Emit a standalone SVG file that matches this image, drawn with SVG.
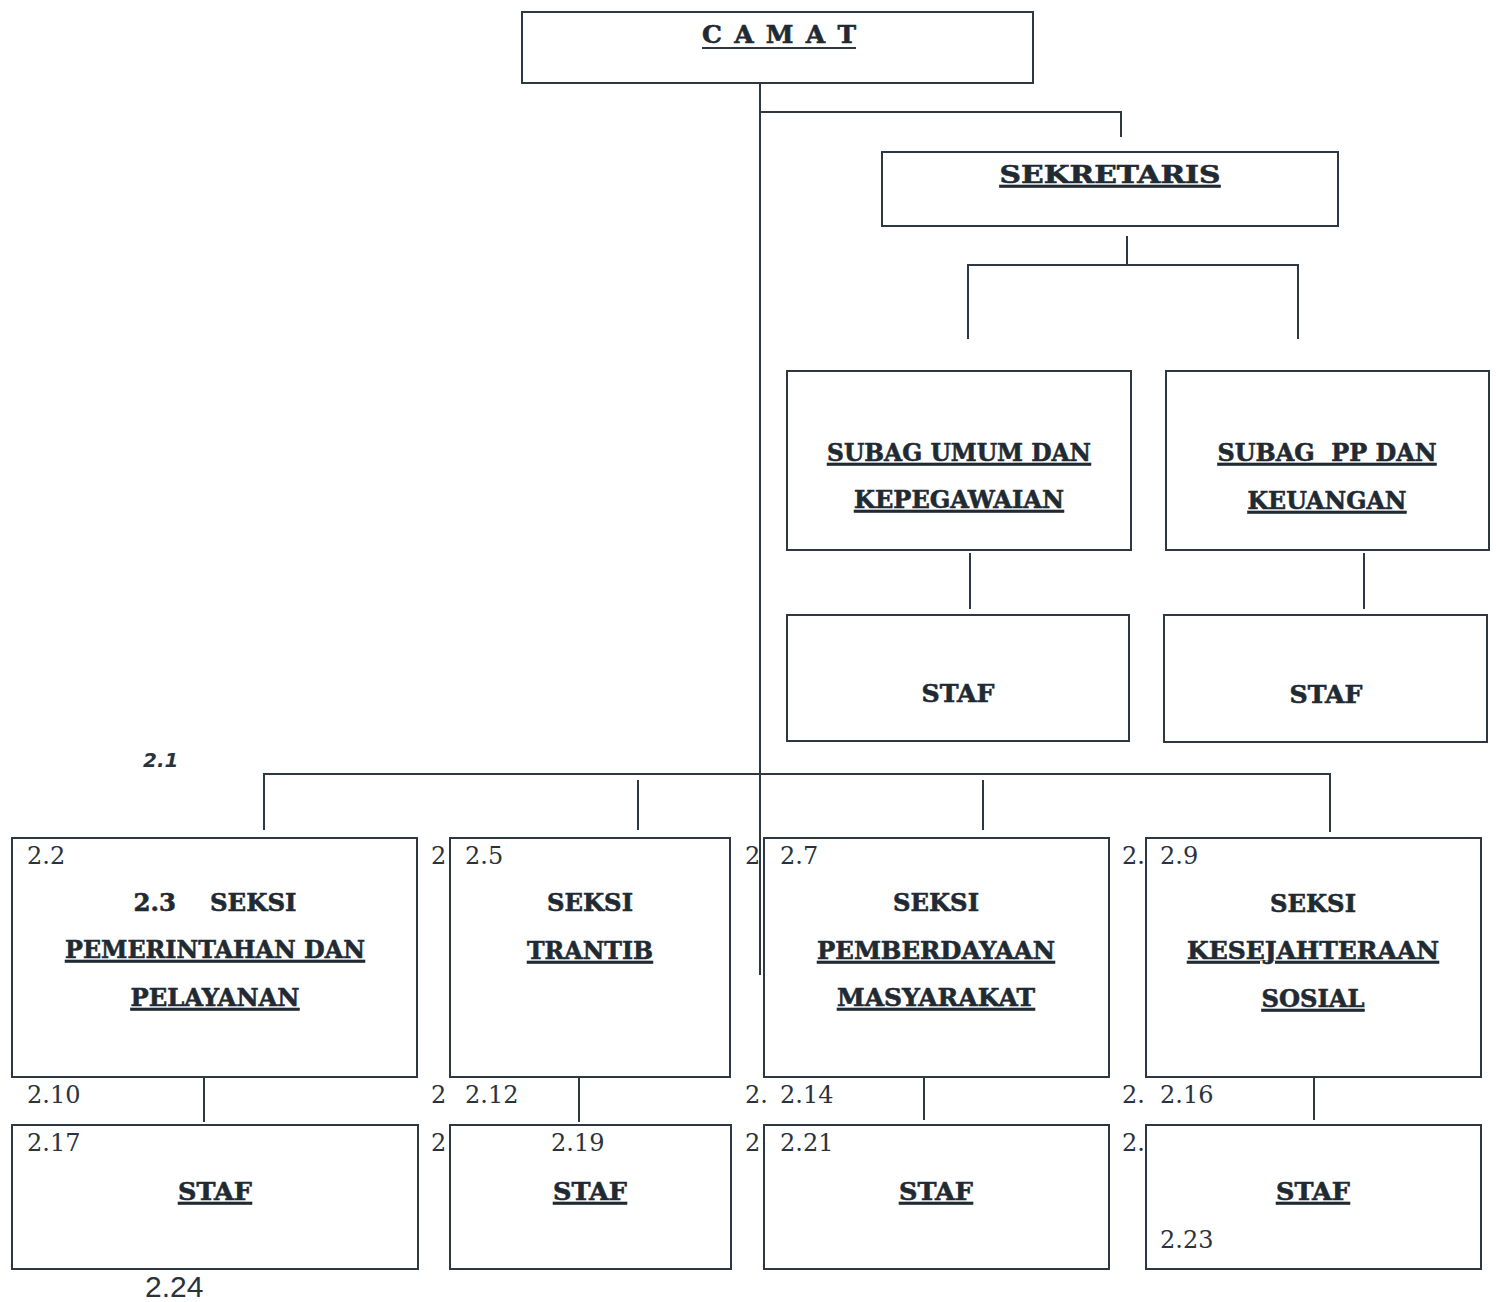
<svg xmlns="http://www.w3.org/2000/svg" width="1496" height="1302" viewBox="0 0 1496 1302">
<style>
.box{fill:#ffffff;stroke:#2e3843;stroke-width:2}
.ln{stroke:#2e3843;stroke-width:2;fill:none}
.t{font-family:"DejaVu Serif","Liberation Serif",serif;font-weight:bold;font-size:25px;fill:#1f2a33;stroke:#1f2a33;stroke-width:0.6;text-anchor:middle}
.u{text-decoration:underline}
.n{font-family:"DejaVu Serif","Liberation Serif",serif;font-size:24px;fill:#2a333c}
.s{font-family:"Liberation Sans",Arial,sans-serif;font-size:30px;fill:#2a333c}
.i{font-family:"DejaVu Sans","Liberation Sans",sans-serif;font-size:20px;font-style:italic;font-weight:bold;fill:#2a333c}
</style>
<rect width="1496" height="1302" fill="#ffffff"/>
<g id="connectors">
<line class="ln" x1="760" y1="83" x2="760" y2="975"/>
<polyline class="ln" points="760,112 1121,112 1121,137"/>
<line class="ln" x1="1127" y1="236" x2="1127" y2="265"/>
<polyline class="ln" points="968,339 968,265 1298,265 1298,339"/>
<line class="ln" x1="970" y1="553" x2="970" y2="609"/>
<line class="ln" x1="1364" y1="553" x2="1364" y2="609"/>
<polyline class="ln" points="264,830 264,774 1330,774 1330,832"/>
<line class="ln" x1="638" y1="780" x2="638" y2="830"/>
<line class="ln" x1="983" y1="780" x2="983" y2="830"/>
<line class="ln" x1="204" y1="1077" x2="204" y2="1122"/>
<line class="ln" x1="579" y1="1077" x2="579" y2="1122"/>
<line class="ln" x1="924" y1="1077" x2="924" y2="1120"/>
<line class="ln" x1="1314" y1="1077" x2="1314" y2="1120"/>
</g>
<g id="camat">
<rect class="box" x="522" y="12" width="511" height="71"/>
<text class="t" x="779" y="43" font-size="27" textLength="154" lengthAdjust="spacing">C A M A T</text>
<line class="ln" x1="702" y1="48" x2="856" y2="48"/>
</g>
<g id="sekretaris">
<rect class="box" x="882" y="152" width="456" height="74"/>
<text class="t u" x="1110" y="183" font-size="27" textLength="221" lengthAdjust="spacingAndGlyphs">SEKRETARIS</text>
</g>
<g id="subag-umum">
<rect class="box" x="787" y="371" width="344" height="179"/>
<text class="t u" x="959" y="461" textLength="264" lengthAdjust="spacingAndGlyphs">SUBAG UMUM DAN</text>
<text class="t u" x="959" y="508" textLength="210" lengthAdjust="spacingAndGlyphs">KEPEGAWAIAN</text>
</g>
<g id="subag-pp">
<rect class="box" x="1166" y="371" width="323" height="179"/>
<text class="t u" x="1327" y="461" textLength="219" lengthAdjust="spacingAndGlyphs" xml:space="preserve">SUBAG  PP DAN</text>
<text class="t u" x="1327" y="509" textLength="159" lengthAdjust="spacingAndGlyphs">KEUANGAN</text>
</g>
<g id="staf-umum">
<rect class="box" x="787" y="615" width="342" height="126"/>
<text class="t" x="958" y="702" textLength="73" lengthAdjust="spacingAndGlyphs">STAF</text>
</g>
<g id="staf-pp">
<rect class="box" x="1164" y="615" width="323" height="127"/>
<text class="t" x="1326" y="703" textLength="73" lengthAdjust="spacingAndGlyphs">STAF</text>
</g>
<text class="i" x="143" y="767">2.1</text>
<g id="seksi-pemerintahan">
<rect class="box" x="12" y="838" width="405" height="239"/>
<text class="n" x="27" y="864">2.2</text>
<text class="t" x="215" y="911" textLength="163" lengthAdjust="spacingAndGlyphs" xml:space="preserve">2.3    SEKSI</text>
<text class="t u" x="215" y="958" textLength="300" lengthAdjust="spacingAndGlyphs">PEMERINTAHAN DAN</text>
<text class="t u" x="215" y="1006" textLength="169" lengthAdjust="spacingAndGlyphs">PELAYANAN</text>
</g>
<g id="seksi-trantib">
<rect class="box" x="450" y="838" width="280" height="239"/>
<text class="n" x="431" y="864">2</text>
<text class="n" x="465" y="864">2.5</text>
<text class="t" x="590" y="911" textLength="86" lengthAdjust="spacingAndGlyphs">SEKSI</text>
<text class="t u" x="590" y="959" textLength="126" lengthAdjust="spacingAndGlyphs">TRANTIB</text>
</g>
<g id="seksi-pemberdayaan">
<rect class="box" x="764" y="838" width="345" height="239"/>
<text class="n" x="745" y="864">2</text>
<text class="n" x="780" y="864">2.7</text>
<text class="t" x="936" y="911" textLength="86" lengthAdjust="spacingAndGlyphs">SEKSI</text>
<text class="t u" x="936" y="959" textLength="238" lengthAdjust="spacingAndGlyphs">PEMBERDAYAAN</text>
<text class="t u" x="936" y="1006" textLength="198" lengthAdjust="spacingAndGlyphs">MASYARAKAT</text>
</g>
<g id="seksi-kesejahteraan">
<rect class="box" x="1146" y="838" width="335" height="239"/>
<text class="n" x="1122" y="864">2.</text>
<text class="n" x="1160" y="864">2.9</text>
<text class="t" x="1313" y="912" textLength="86" lengthAdjust="spacingAndGlyphs">SEKSI</text>
<text class="t u" x="1313" y="959" textLength="252" lengthAdjust="spacingAndGlyphs">KESEJAHTERAAN</text>
<text class="t u" x="1313" y="1007" textLength="103" lengthAdjust="spacingAndGlyphs">SOSIAL</text>
</g>
<text class="n" x="27" y="1103">2.10</text>
<text class="n" x="431" y="1103">2</text>
<text class="n" x="465" y="1103">2.12</text>
<text class="n" x="745" y="1103">2.</text>
<text class="n" x="780" y="1103">2.14</text>
<text class="n" x="1122" y="1103">2.</text>
<text class="n" x="1160" y="1103">2.16</text>
<g id="staf-1">
<rect class="box" x="12" y="1125" width="406" height="144"/>
<text class="n" x="27" y="1151">2.17</text>
<text class="t u" x="215" y="1200" textLength="74" lengthAdjust="spacingAndGlyphs">STAF</text>
</g>
<g id="staf-2">
<rect class="box" x="450" y="1125" width="281" height="144"/>
<text class="n" x="431" y="1151">2</text>
<text class="n" x="551" y="1151">2.19</text>
<text class="t u" x="590" y="1200" textLength="74" lengthAdjust="spacingAndGlyphs">STAF</text>
</g>
<g id="staf-3">
<rect class="box" x="764" y="1125" width="345" height="144"/>
<text class="n" x="745" y="1151">2</text>
<text class="n" x="780" y="1151">2.21</text>
<text class="t u" x="936" y="1200" textLength="74" lengthAdjust="spacingAndGlyphs">STAF</text>
</g>
<g id="staf-4">
<text class="n" x="1122" y="1151">2.</text>
<rect class="box" x="1146" y="1125" width="335" height="144"/>
<text class="t u" x="1313" y="1200" textLength="74" lengthAdjust="spacingAndGlyphs">STAF</text>
<text class="n" x="1160" y="1248">2.23</text>
</g>
<text class="s" x="145" y="1297">2.24</text>
</svg>
